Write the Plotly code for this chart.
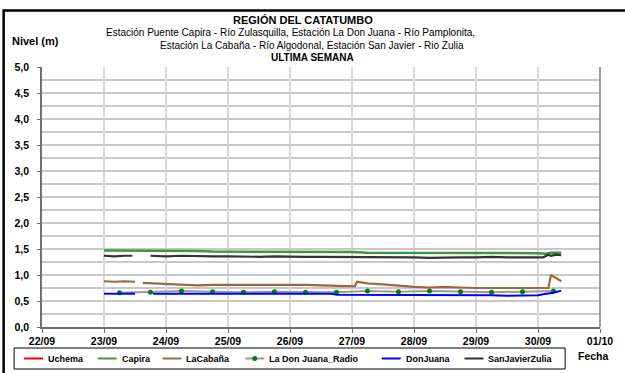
import plotly.graph_objects as go

# Water level readings, September 2013 (day hh), in metres
capira_t = ["23 00", "23 06", "23 12", "23 18", "24 00", "24 06", "24 12", "24 18",
            "25 00", "25 06", "25 12", "25 18", "26 00", "26 06", "26 12", "26 18",
            "27 00", "27 06", "27 12", "27 18", "28 00", "28 06", "28 12", "28 18",
            "29 00", "29 06", "29 12", "29 18", "30 00", "30 03", "30 05", "30 09"]
capira_v = [1.47, 1.47, 1.47, 1.47, 1.46, 1.46, 1.46, 1.45,
            1.45, 1.45, 1.45, 1.45, 1.45, 1.45, 1.44, 1.44,
            1.44, 1.43, 1.43, 1.43, 1.43, 1.43, 1.42, 1.42,
            1.42, 1.42, 1.42, 1.42, 1.42, 1.41, 1.43, 1.43]

sanjavier_t = ["23 00", "23 04", "23 08", "23 11", "23 14", "23 18", "24 00", "24 06",
               "24 12", "24 18", "25 00", "25 06", "25 12", "25 18", "26 00", "26 06",
               "26 12", "26 18", "27 00", "27 06", "27 12", "27 18", "28 00", "28 06",
               "28 12", "28 18", "29 00", "29 06", "29 12", "29 18", "30 00", "30 02",
               "30 04", "30 05", "30 07", "30 09"]
sanjavier_v = [1.37, 1.36, 1.37, 1.37, None, 1.37, 1.36, 1.37,
               1.36, 1.36, 1.36, 1.35, 1.35, 1.36, 1.35, 1.35,
               1.35, 1.35, 1.34, 1.35, 1.34, 1.34, 1.34, 1.33,
               1.34, 1.34, 1.34, 1.35, 1.34, 1.34, 1.34, 1.34,
               1.39, 1.37, 1.39, 1.38]

lacabana_t = ["23 00", "23 04", "23 08", "23 12", "23 13", "23 15", "23 19", "24 00",
              "24 06", "24 12", "24 18", "25 00", "25 06", "25 12", "25 18", "26 00",
              "26 06", "26 12", "26 18", "27 00", "27 01", "27 02", "27 06", "27 12",
              "27 18", "28 00", "28 06", "28 12", "28 18", "29 00", "29 12", "30 00",
              "30 04", "30 05", "30 06", "30 09"]
lacabana_v = [0.88, 0.87, 0.88, 0.87, None, 0.85, 0.84, 0.82,
              0.81, 0.80, 0.81, 0.81, 0.82, 0.81, 0.82, 0.81,
              0.81, 0.80, 0.79, 0.78, 0.78, 0.87, 0.84, 0.82,
              0.79, 0.77, 0.76, 0.77, 0.76, 0.75, 0.75, 0.75,
              0.75, 0.99, 0.97, 0.88]

donjuana_t = ["23 00", "23 06", "23 12", "23 15", "23 19", "24 06", "24 18", "25 06",
              "25 18", "26 06", "26 16", "26 18", "27 06", "27 18", "28 06", "28 18",
              "29 06", "29 12", "29 18", "30 00", "30 02", "30 04", "30 06", "30 09"]
donjuana_v = [0.64, 0.64, 0.64, None, 0.64, 0.64, 0.64, 0.64,
              0.64, 0.64, 0.64, 0.62, 0.62, 0.62, 0.62, 0.62,
              0.61, 0.60, 0.61, 0.61, 0.63, 0.64, 0.66, 0.70]

radio_t = ["23 06", "23 18", "24 06", "24 18", "25 06", "25 18", "26 06", "26 18",
           "27 06", "27 18", "28 06", "28 18", "29 06", "29 18", "30 06"]
radio_v = [0.66, 0.67, 0.69, 0.68, 0.67, 0.68, 0.67, 0.67,
           0.69, 0.68, 0.69, 0.68, 0.67, 0.68, 0.69]

y_ticks = [0.0, 0.5, 1.0, 1.5, 2.0, 2.5, 3.0, 3.5, 4.0, 4.5, 5.0]


def stamps(days):
    return [f"2013-09-{d[:2]} {d[3:]}:00" for d in days]


FONT = "Liberation Sans, Arial, sans-serif"
W, H = 625, 373
ML, MR, MT, MB = 42, 23, 67, 46
PW, PH = W - ML - MR, H - MT - MB


def px(x):
    """pixel column -> paper x"""
    return (x - ML) / PW


def py(y):
    """pixel row -> paper y"""
    return (H - MB - y) / PH


series = [
    # name, times, values, colour, width, marker colour, legend text start (px)
    ("Uchema", [], [], "#ff0000", 2, None, 46),
    ("Capira", capira_t, capira_v, "#3a9a3a", 2.5, None, 120),
    ("LaCabaña", lacabana_t, lacabana_v, "#a0683a", 2.2, None, 185),
    ("La Don Juana_Radio", radio_t, radio_v, "#9a9a9a", 2, "#008000", 268),
    ("DonJuana", donjuana_t, donjuana_v, "#0000ff", 2, None, 405),
    ("SanJavierZulia", sanjavier_t, sanjavier_v, "#333333", 2.2, None, 488),
]

fig = go.Figure()
for name, t, v, colour, width, mcol, _ in series:
    if mcol:
        fig.add_trace(go.Scatter(x=stamps(t), y=v, name=name, mode="lines+markers",
                                 line=dict(color=colour, width=width),
                                 marker=dict(color=mcol, size=5)))
    else:
        fig.add_trace(go.Scatter(x=stamps(t) or [None], y=v or [None], name=name,
                                 mode="lines", line=dict(color=colour, width=width)))

annotations = []
shapes = []

# title block, line by line: text, weight, size, centre x (px), row (px)
title_lines = [
    ("REGIÓN DEL CATATUMBO", "bold", 11, 304, 20),
    ("Estación Puente Capira - Río Zulasquilla, Estación La Don Juana - Río Pamplonita,", "normal", 10, 291, 32.5),
    ("Estación La Cabaña - Río Algodonal, Estación San Javier - Rio Zulia", "normal", 10, 313, 45),
    ("ULTIMA SEMANA", "bold", 10, 313, 57.5),
]
for text, weight, size, cx, cy in title_lines:
    annotations.append(dict(text=text, xref="paper", yref="paper", x=px(cx), y=py(cy),
                            xanchor="center", yanchor="middle", showarrow=False,
                            font=dict(family=FONT, size=size, color="black", weight=weight)))
annotations.append(dict(text="Nivel (m)", xref="paper", yref="paper", x=px(10), y=py(41),
                        xanchor="left", yanchor="middle", showarrow=False,
                        font=dict(family=FONT, size=11, color="black", weight="bold")))
annotations.append(dict(text="Fecha", xref="paper", yref="paper", x=px(595), y=py(356),
                        xanchor="center", yanchor="middle", showarrow=False,
                        font=dict(family=FONT, size=10.5, color="black", weight="bold")))

# legend box with a short line sample before each series name
leg_y = py(358.5)
shapes.append(dict(type="rect", xref="paper", yref="paper",
                   x0=px(14), x1=px(567), y0=py(369), y1=py(348),
                   line=dict(color="black", width=1), fillcolor="white"))
for name, _, _, colour, width, mcol, tx in series:
    shapes.append(dict(type="line", xref="paper", yref="paper",
                       x0=px(tx - 22), x1=px(tx - 3), y0=leg_y, y1=leg_y,
                       line=dict(color=colour, width=2)))
    if mcol:
        shapes.append(dict(type="circle", xref="paper", yref="paper",
                           xsizemode="pixel", ysizemode="pixel",
                           xanchor=px(tx - 12.5), yanchor=leg_y,
                           x0=-2.5, x1=2.5, y0=-2.5, y1=2.5,
                           line=dict(color=mcol, width=0), fillcolor=mcol))
    annotations.append(dict(text=name, xref="paper", yref="paper", x=px(tx), y=leg_y,
                            xanchor="left", yanchor="middle", showarrow=False,
                            font=dict(family=FONT, size=9, color="black", weight="bold")))

# outer chart frame
shapes.append(dict(type="rect", xref="paper", yref="paper",
                   x0=px(3.5), x1=px(700), y0=py(420), y1=py(10.5),
                   line=dict(color="black", width=2.5), layer="above"))
# right edge of the plot area
shapes.append(dict(type="line", xref="paper", yref="paper", x0=1, x1=1, y0=0, y1=1,
                   line=dict(color="#808080", width=1.5)))

fig.update_layout(
    width=W, height=H,
    margin=dict(l=ML, r=MR, t=MT, b=MB),
    paper_bgcolor="white", plot_bgcolor="white",
    separators=",.",
    font=dict(family=FONT, size=10, color="black"),
    annotations=annotations,
    shapes=shapes,
    showlegend=False,
)
fig.update_xaxes(
    type="date", range=["2013-09-22", "2013-10-01"],
    dtick=86400000, tick0="2013-09-22", tickformat="%d/%m",
    showgrid=True, gridcolor="#d9d9d9", gridwidth=2,
    showline=True, linecolor="#6e6e6e", linewidth=1.5,
    ticks="outside", ticklen=4, tickcolor="#6e6e6e",
    tickfont=dict(family=FONT, size=10.5, color="black", weight="bold"),
    zeroline=False,
)
fig.update_yaxes(
    range=[0, 5], tickvals=y_ticks, tickformat=".1f",
    showgrid=True, gridcolor="#c8c8c8", gridwidth=1.5,
    minor=dict(dtick=0.25, showgrid=True, gridcolor="#c8c8c8", gridwidth=1.5),
    showline=True, linecolor="#6e6e6e", linewidth=1.5,
    ticks="outside", ticklen=3, tickcolor="#6e6e6e", ticklabelstandoff=6,
    tickfont=dict(family=FONT, size=10.5, color="black", weight="bold"),
    zeroline=False,
)

fig.write_html("out.html")
